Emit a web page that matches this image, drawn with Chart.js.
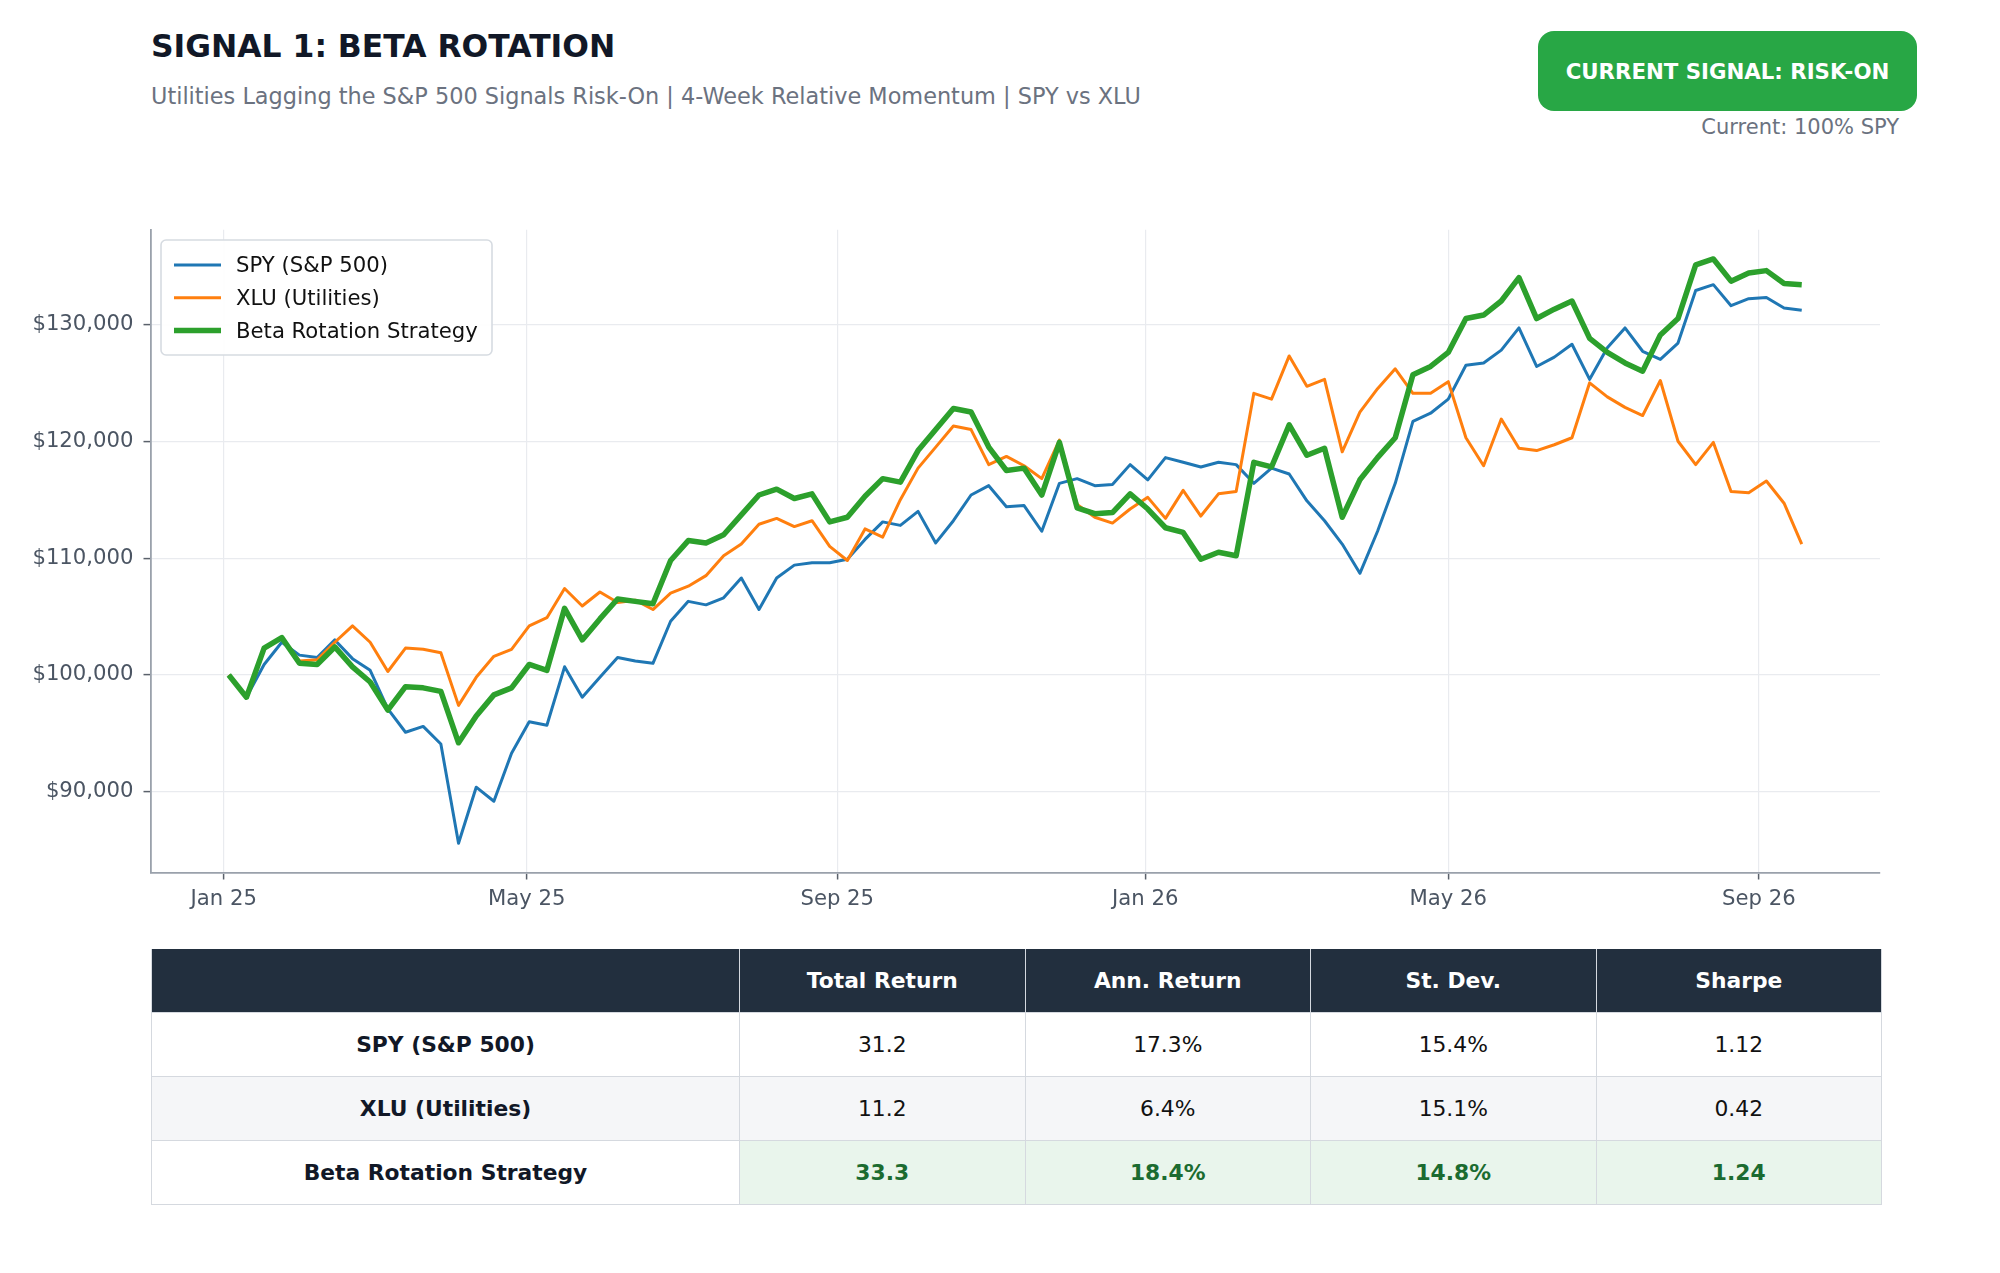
<!DOCTYPE html>
<html>
<head>
<meta charset="utf-8">
<script src="https://cdn.jsdelivr.net/npm/chart.js@4.4.1/dist/chart.umd.min.js"></script>
<style>
  html, body { margin: 0; padding: 0; background: #ffffff; }
  body { width: 2000px; height: 1273px; position: relative; overflow: hidden; font-family: "DejaVu Sans", sans-serif; }
  .title { position: absolute; left: 151px; top: 31px; font-size: 31.4px; line-height: 31px; font-weight: bold; color: #111827; white-space: nowrap; }
  .subtitle { position: absolute; left: 151px; top: 85px; font-size: 22.4px; line-height: 22px; color: #6b7280; white-space: nowrap; }
  .badge { position: absolute; left: 1538px; top: 31px; width: 379px; height: 80px; border-radius: 16px; background: #28a745;
           color: #ffffff; font-weight: bold; font-size: 21.3px; display: flex; align-items: center; justify-content: center; }
  .current { position: absolute; right: 101px; top: 117px; font-size: 21px; line-height: 21px; color: #6b7280; white-space: nowrap; }
  #chartBox { position: absolute; left: 0; top: 207px; width: 2000px; height: 733px; }
  table { position: absolute; left: 151px; top: 949px; width: 1730px; table-layout: fixed; border-collapse: collapse; font-size: 21.8px; }
  th { background: #222f3e; color: #ffffff; height: 63px; font-weight: bold; border: 1.5px solid #d5d9df; border-top: none; padding: 0; }
  th + th { border-left: 1.5px solid #e5e7eb; }
  td { height: 63px; text-align: center; color: #111111; border: 1.5px solid #d5d9df; padding: 0; }
  td.label { font-weight: bold; color: #111827; }
  tr.alt td { background: #f5f6f8; }
  td.best { background: #e9f5ec; color: #1b6b30; font-weight: bold; }
</style>
</head>
<body>
<div class="title">SIGNAL 1: BETA ROTATION</div>
<div class="subtitle">Utilities Lagging the S&amp;P 500 Signals Risk-On | 4-Week Relative Momentum | SPY vs XLU</div>
<div class="badge">CURRENT SIGNAL: RISK-ON</div>
<div class="current">Current: 100% SPY</div>
<div id="chartBox"><canvas id="growth" width="2000" height="733"></canvas></div>
<table id="stats"></table>

<script>
// weekly closes, growth of $100k (values in $ thousands)
var firstWeek = '2025-01-03';
var weekCount = 90;

var spyValues = [
    100.0, 98.1, 100.9, 102.8, 101.7, 101.5, 103.0, 101.4, 100.4, 97.1,
    95.1, 95.6, 94.1, 85.6, 90.4, 89.2, 93.3, 96.0, 95.7, 100.7,
    98.1, 99.8, 101.5, 101.2, 101.0, 104.6, 106.3, 106.0, 106.6, 108.3,
    105.6, 108.3, 109.4, 109.6, 109.6, 109.9, 111.6, 113.1, 112.8, 114.0,
    111.3, 113.2, 115.4, 116.2, 114.4, 114.5, 112.3, 116.4, 116.8, 116.2,
    116.3, 118.0, 116.7, 118.6, 118.2, 117.8, 118.2, 118.0, 116.4, 117.7,
    117.2, 114.9, 113.2, 111.2, 108.7, 112.3, 116.4, 121.7, 122.4, 123.6,
    126.5, 126.7, 127.8, 129.7, 126.4, 127.2, 128.3, 125.3, 128.0, 129.7,
    127.7, 127.0, 128.4, 132.9, 133.4, 131.6, 132.2, 132.3, 131.4, 131.2
];

var xluValues = [
    100.0, 98.1, 102.2, 103.2, 101.2, 101.3, 102.8, 104.2, 102.8, 100.3,
    102.3, 102.2, 101.9, 97.4, 99.8, 101.6, 102.2, 104.2, 104.9, 107.4,
    105.9, 107.1, 106.2, 106.4, 105.6, 107.0, 107.6, 108.5, 110.2, 111.2,
    112.9, 113.4, 112.7, 113.2, 111.0, 109.8, 112.5, 111.8, 115.0, 117.7,
    119.5, 121.3, 121.0, 118.0, 118.7, 117.9, 116.8, 120.1, 114.6, 113.5,
    113.0, 114.2, 115.2, 113.4, 115.8, 113.6, 115.5, 115.7, 124.1, 123.6,
    127.3, 124.7, 125.3, 119.1, 122.5, 124.5, 126.2, 124.1, 124.1, 125.1,
    120.3, 117.9, 121.9, 119.4, 119.2, 119.7, 120.3, 125.0, 123.8, 122.9,
    122.2, 125.2, 120.0, 118.0, 119.9, 115.7, 115.6, 116.6, 114.7, 111.2
];

var strategyValues = [
    100.0, 98.1, 102.3, 103.2, 101.0, 100.9, 102.4, 100.7, 99.4, 97.0,
    99.0, 98.9, 98.6, 94.2, 96.5, 98.3, 98.9, 100.9, 100.4, 105.7,
    103.0, 104.8, 106.5, 106.3, 106.1, 109.8, 111.5, 111.3, 112.0, 113.7,
    115.4, 115.9, 115.1, 115.5, 113.1, 113.5, 115.3, 116.8, 116.5, 119.2,
    121.0, 122.8, 122.5, 119.5, 117.5, 117.7, 115.4, 119.9, 114.3, 113.8,
    113.9, 115.5, 114.2, 112.6, 112.2, 109.9, 110.5, 110.2, 118.2, 117.8,
    121.4, 118.8, 119.4, 113.5, 116.7, 118.6, 120.3, 125.7, 126.4, 127.6,
    130.5, 130.8, 132.0, 134.0, 130.5, 131.3, 132.0, 128.8, 127.6, 126.7,
    126.0, 129.1, 130.5, 135.1, 135.6, 133.7, 134.4, 134.6, 133.5, 133.4
];

var monthTicks = ['2025-01-01', '2025-05-01', '2025-09-01', '2026-01-01', '2026-05-01', '2026-09-01'];
var monthLabels = ['Jan 25', 'May 25', 'Sep 25', 'Jan 26', 'May 26', 'Sep 26'];
var valueTicks = [90, 100, 110, 120, 130];

var seriesLabels = ['SPY (S&P 500)', 'XLU (Utilities)', 'Beta Rotation Strategy'];
var seriesColors = ['#1f77b4', '#ff7f0e', '#2ca02c'];

var statColumns = ['Total Return', 'Ann. Return', 'St. Dev.', 'Sharpe'];
var totalReturn = [31.2, 11.2, 33.3];
var annReturn = [17.3, 6.4, 18.4];
var stDev = [15.4, 15.1, 14.8];
var sharpe = [1.12, 0.42, 1.24];

// days since 1 Jan 2025
var origin = Date.UTC(2025, 0, 1);
function dayOf(iso) {
    var p = iso.split('-');
    return (Date.UTC(+p[0], +p[1] - 1, +p[2]) - origin) / 86400000;
}

var weekDays = [];
var start = dayOf(firstWeek);
for (var i = 0; i < weekCount; i++) {
    weekDays.push(start + i * 7);
}

function toPoints(values) {
    return values.map(function (v, i) { return { x: weekDays[i], y: v }; });
}

var tickDays = monthTicks.map(dayOf);

// legend drawn inside the plot, top left
var boxLegend = {
    id: 'boxLegend',
    afterDraw: function (chart) {
        var ctx = chart.ctx;
        var x = 161, y = 33, w = 331, h = 115;
        ctx.save();
        ctx.beginPath();
        ctx.roundRect(x, y, w, h, 5);
        ctx.fillStyle = 'rgba(255,255,255,0.92)';
        ctx.fill();
        ctx.lineWidth = 1.6;
        ctx.strokeStyle = '#d6dbe1';
        ctx.stroke();
        ctx.font = '21.2px "DejaVu Sans"';
        ctx.textBaseline = 'middle';
        chart.data.datasets.forEach(function (ds, i) {
            var ly = y + 25 + i * 32.8;
            ctx.beginPath();
            ctx.moveTo(174, ly);
            ctx.lineTo(221, ly);
            ctx.lineWidth = ds.borderWidth;
            ctx.strokeStyle = ds.borderColor;
            ctx.stroke();
            ctx.fillStyle = '#111111';
            ctx.fillText(ds.label, 236, ly + 1.5);
        });
        ctx.restore();
    }
};

var growthChart = new Chart(document.getElementById('growth'), {
    type: 'line',
    data: {
        datasets: [
            { label: seriesLabels[0], data: toPoints(spyValues), borderColor: seriesColors[0], borderWidth: 3, order: 2 },
            { label: seriesLabels[1], data: toPoints(xluValues), borderColor: seriesColors[1], borderWidth: 3, order: 1 },
            { label: seriesLabels[2], data: toPoints(strategyValues), borderColor: seriesColors[2], borderWidth: 5.5, order: 0 }
        ]
    },
    options: {
        responsive: false,
        animation: false,
        devicePixelRatio: 1,
        layout: { padding: { top: 0, right: 120, left: 0, bottom: 0 } },
        elements: {
            line: { tension: 0, borderJoinStyle: 'round', fill: false },
            point: { radius: 0 }
        },
        plugins: {
            legend: { display: false },
            tooltip: { enabled: false }
        },
        scales: {
            x: {
                type: 'linear',
                min: -29,
                max: 656,
                afterBuildTicks: function (scale) {
                    scale.ticks = tickDays.map(function (d) { return { value: d }; });
                },
                afterFit: function (scale) { scale.height = 67.5; },
                ticks: {
                    autoSkip: false,
                    maxRotation: 0,
                    padding: 7.5,
                    color: '#4b5563',
                    font: { family: 'DejaVu Sans', size: 21.2 },
                    callback: function (value) {
                        var k = tickDays.indexOf(value);
                        return k >= 0 ? monthLabels[k] : '';
                    }
                },
                grid: { color: '#e9ebef', lineWidth: 1.2, tickLength: 7, tickColor: '#5b616b', tickWidth: 1.5 },
                border: { color: '#9aa1ab', width: 1.8 }
            },
            y: {
                type: 'linear',
                min: 83.1,
                max: 138.1,
                afterBuildTicks: function (scale) {
                    scale.ticks = valueTicks.map(function (v) { return { value: v }; });
                },
                afterFit: function (scale) { scale.width = 150.5; },
                ticks: {
                    padding: 10,
                    color: '#4b5563',
                    font: { family: 'DejaVu Sans', size: 21.2 },
                    callback: function (value) {
                        return '$' + (value * 1000).toLocaleString('en-US');
                    }
                },
                grid: { color: '#e9ebef', lineWidth: 1.2, tickLength: 7, tickColor: '#5b616b', tickWidth: 1.5 },
                border: { color: '#9aa1ab', width: 1.8 }
            }
        }
    },
    plugins: [boxLegend]
});

// statistics table under the chart
function buildTable() {
    var html = '<colgroup><col style="width:588px">';
    statColumns.forEach(function () { html += '<col style="width:285.5px">'; });
    html += '</colgroup><tr><th></th>';
    statColumns.forEach(function (c) {
        html += '<th>' + c + '</th>';
    });
    html += '</tr>';
    seriesLabels.forEach(function (name, r) {
        var best = r === 2;
        var cls = best ? ' class="best"' : '';
        html += '<tr' + (r === 1 ? ' class="alt"' : '') + '>';
        html += '<td class="label">' + name.replace('&', '&amp;') + '</td>';
        html += '<td' + cls + '>' + totalReturn[r].toFixed(1) + '</td>';
        html += '<td' + cls + '>' + annReturn[r].toFixed(1) + '%</td>';
        html += '<td' + cls + '>' + stDev[r].toFixed(1) + '%</td>';
        html += '<td' + cls + '>' + sharpe[r].toFixed(2) + '</td>';
        html += '</tr>';
    });
    document.getElementById('stats').innerHTML = html;
}

buildTable();
</script>
</body>
</html>
